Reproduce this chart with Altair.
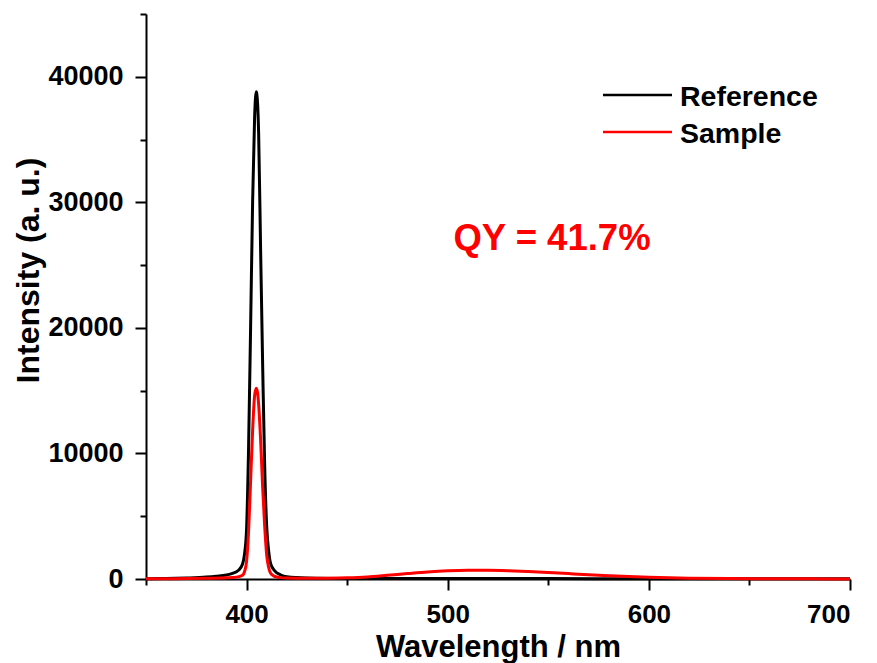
import altair as alt
import pandas as pd

# ---- data ----
series_names = ["Reference", "Sample"]
series_colors = ["#000000", "#ff0000"]

wl_ref = [350, 360, 370, 380, 385, 390, 393, 396, 398, 399, 400, 401, 402, 403, 404, 404.8,
          405.5, 406, 407, 408, 409, 410, 411, 412, 414, 417, 420, 430, 450, 500, 550, 600, 650, 700]
int_ref = [20, 40, 80, 150, 220, 320, 450, 700, 1200, 2000, 4000, 10500, 20000, 30000, 36800, 38800,
           37800, 35500, 26000, 17000, 9000, 4200, 2200, 1200, 650, 320, 180, 80, 40, 30, 30, 20, 15, 10]

wl_smp = [350, 360, 370, 380, 390, 395, 398, 399, 400, 401, 402, 403, 404, 404.8, 405.5, 406, 407,
          408, 409, 410, 411, 412, 414, 417, 420, 430, 440, 450, 460, 470, 480, 490, 500, 510, 520,
          530, 540, 550, 560, 570, 580, 590, 600, 610, 620, 640, 660, 680, 700]
int_smp = [10, 20, 30, 50, 90, 150, 300, 600, 1400, 3800, 7800, 11800, 14600, 15200, 14800, 13900,
           11000, 7300, 4200, 1900, 900, 450, 200, 110, 80, 50, 60, 90, 160, 290, 430, 560, 650, 690,
           690, 660, 600, 520, 430, 340, 260, 190, 130, 90, 60, 35, 20, 10, 5]

x_major = [400, 500, 600, 700]
x_minor = [350, 450, 550, 650]
y_major = [0, 10000, 20000, 30000, 40000]
y_minor = [5000, 15000, 25000, 35000, 45000]
qy_label = "QY = 41.7%"

df = pd.concat([
    pd.DataFrame({"wl": wl_ref, "intensity": int_ref, "series": series_names[0]}),
    pd.DataFrame({"wl": wl_smp, "intensity": int_smp, "series": series_names[1]}),
], ignore_index=True)

FONT = "Liberation Sans"
xscale = alt.Scale(domain=[350, 700], nice=False, zero=False)
yscale = alt.Scale(domain=[0, 45000], nice=False)

common_axis = dict(grid=False, domainColor="black", domainWidth=2, tickColor="black", tickWidth=2,
                   labelFont=FONT, labelFontWeight="bold", labelColor="black",
                   titleFont=FONT, titleFontWeight="bold", titleColor="black")

lines = alt.Chart(df).mark_line(strokeWidth=3, interpolate="monotone").encode(
    x=alt.X("wl:Q", scale=xscale,
            axis=alt.Axis(values=x_major, title="Wavelength / nm", orient="bottom", tickSize=11,
                          labelPadding=11, labelFontSize=26, titleFontSize=31, titleY=77,
                          titleBaseline="alphabetic", **common_axis)),
    y=alt.Y("intensity:Q", scale=yscale,
            axis=alt.Axis(values=y_major, title="Intensity (a. u.)", orient="left", tickSize=11,
                          labelPadding=12, labelFontSize=27, format="d", titleFontSize=32,
                          titleX=-108, titleY=256, titleAngle=270, titleAlign="center",
                          titleBaseline="alphabetic", **common_axis)),
    color=alt.Color("series:N", scale=alt.Scale(domain=series_names, range=series_colors), legend=None),
    order=alt.Order("wl:Q"),
)

minor = alt.Chart(df).mark_line(opacity=0).encode(
    x=alt.X("wl:Q", scale=xscale,
            axis=alt.Axis(values=x_minor, labels=False, domain=False, tickSize=6, tickWidth=2,
                          tickColor="black", grid=False, title="", orient="bottom")),
    y=alt.Y("intensity:Q", scale=yscale,
            axis=alt.Axis(values=y_minor, labels=False, domain=False, tickSize=6, tickWidth=2,
                          tickColor="black", grid=False, title="", orient="left")),
)

# manual legend
legend_layers = []
for name, color, ly in zip(series_names, series_colors, [81, 118]):
    d = pd.DataFrame({"series": [name]})
    legend_layers.append(
        alt.Chart(d).mark_rule(color=color, strokeWidth=2.5).encode(
            x=alt.value(457), x2=alt.value(526), y=alt.value(ly))
    )
    legend_layers.append(
        alt.Chart(d).mark_text(align="left", baseline="middle", font=FONT, fontWeight="bold",
                               fontSize=28.5, color="black").encode(
            x=alt.value(534), y=alt.value(ly + 2), text="series:N")
    )

qy = alt.Chart(pd.DataFrame({"label": [qy_label]})).mark_text(
    align="center", baseline="alphabetic", font=FONT, fontWeight="bold", fontSize=36.5, color="#ff0000"
).encode(x=alt.value(406), y=alt.value(236), text="label:N")

chart = alt.layer(lines, minor, *legend_layers, qy).resolve_axis(
    x="independent", y="independent"
).properties(
    width=704, height=565,
    autosize=alt.AutoSizeParams(type="none"),
    padding={"left": 146, "top": 14, "right": 27, "bottom": 84},
    background="white",
).configure_view(strokeWidth=0)

chart.save("out.html", embed_options={"renderer": "svg", "actions": False})
